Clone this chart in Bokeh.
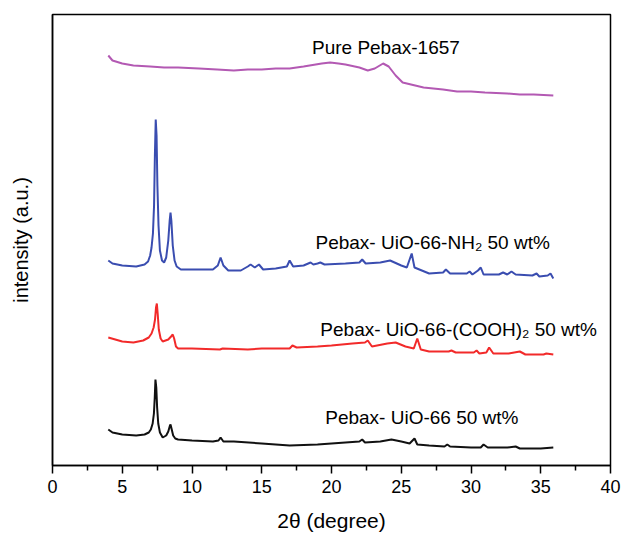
from bokeh.plotting import figure
from bokeh.models import Label, FixedTicker, Range1d
from bokeh.embed import file_html
from bokeh.resources import INLINE

# ---- data (2theta in degrees, intensity in a.u., stacked offsets included) ----
uio66_x = [4.0, 4.3, 5.0, 6.0, 6.6, 6.9, 7.05, 7.18, 7.27, 7.33, 7.38, 7.44, 7.5, 7.58, 7.7, 7.9, 8.15,
           8.3, 8.4, 8.46, 8.53, 8.65, 8.8, 9.0,
           10.0, 11.5, 11.9, 12.05, 12.25, 13.0, 15.0, 17.0, 19.0, 20.0, 21.0, 22.0, 22.2, 22.4, 23.5, 24.3,
           25.0, 25.6, 25.95, 26.15, 27.0, 28.1, 28.3, 28.5, 30.0, 30.7, 30.9, 31.2, 32.0, 32.6, 33.2, 33.5,
           35.0, 35.9]
uio66_y = [36, 33, 31, 30, 31, 33, 36, 42, 52, 68, 86, 78, 58, 42, 33, 28, 30,
           34, 39, 41, 37, 30, 27, 26,
           25, 24, 25, 28, 24, 24, 22, 20, 21, 22, 23, 24, 26, 23, 24, 26,
           24, 22, 27, 21, 20, 19, 21, 19, 18, 18, 21, 18, 18, 18, 19, 17,
           17, 18]

cooh_x = [4.0, 5.0, 5.8, 6.5, 6.9, 7.1, 7.25, 7.35, 7.42, 7.48, 7.54, 7.62, 7.75, 7.9, 8.3, 8.5,
          8.62, 8.72, 8.85, 9.0,
          10.0, 12.0, 12.2, 14.0, 15.0, 17.0, 17.2, 17.5, 19.0, 20.0, 21.5, 22.4, 22.6, 22.9, 24.0,
          24.6, 25.3, 25.9, 26.15, 26.4, 27.0, 28.4, 28.6, 28.9, 30.2, 30.4, 30.6, 31.1, 31.3, 31.6,
          32.7, 33.1, 33.5, 33.9, 35.2, 35.4, 35.9]
cooh_y = [128, 124, 123, 125, 128, 132, 138, 146, 158, 162, 152, 136, 127, 124, 126, 129,
          131, 127, 119, 117,
          117, 116, 117, 116, 117, 117, 120, 118, 119, 120, 122, 123, 125, 119, 122,
          123, 119, 117, 127, 116, 114, 114, 115, 113, 113, 115, 112, 113, 118, 112,
          112, 113, 114, 111, 111, 112, 111]

nh2_x = [4.0, 4.3, 5.0, 6.0, 6.6, 6.85, 7.0, 7.1, 7.2, 7.28, 7.34, 7.4, 7.46, 7.52, 7.6, 7.7, 7.85,
         8.0, 8.15, 8.3, 8.4, 8.46, 8.52, 8.62, 8.75, 8.9, 9.2, 10.0, 11.5, 11.85, 12.05, 12.25, 12.6,
         13.5, 14.0, 14.2, 14.5, 14.8, 15.1, 16.0, 16.8, 17.0, 17.25, 18.0, 18.5, 18.7, 19.0, 19.2,
         19.5, 21.0, 22.0, 22.2, 22.45, 23.5, 24.2, 25.0, 25.4, 25.6, 25.75, 25.95, 27.0, 28.0, 28.2,
         28.5, 29.7, 29.9, 30.1, 30.5, 30.7, 30.9, 32.0, 32.3, 32.6, 32.9, 33.2, 34.4, 34.7, 34.9,
         35.5, 35.7, 35.9]
nh2_y = [205, 202, 200, 199, 201, 204, 210, 218, 232, 260, 310, 346, 330, 280, 240, 215, 205,
         203, 208, 225, 245, 253, 245, 220, 205, 199, 196, 196, 196, 200, 208, 200, 195,
         195, 199, 201, 198, 201, 196, 197, 199, 205, 199, 200, 203, 201, 202, 203,
         201, 202, 203, 206, 202, 203, 205, 200, 198, 206, 212, 198, 192, 193, 196,
         192, 192, 194, 191, 195, 198, 191, 191, 193, 191, 194, 191, 190, 192, 189,
         190, 192, 187]

pebax_x = [4.0, 4.3, 5.0, 5.8, 7.0, 8.0, 9.0, 10.5, 11.8, 13.0, 14.0, 15.0, 16.0, 17.0, 18.0, 19.3,
           19.9, 20.5, 21.0, 22.0, 22.6, 23.1, 23.7, 24.1, 24.6, 25.1, 26.0, 26.6, 28.0, 29.0, 30.0,
           31.0, 32.6, 33.5, 34.5, 35.9]
pebax_y = [410, 405, 402, 400, 399, 398, 398, 397, 396, 395, 396, 396, 397, 397, 399, 402,
           403, 402, 401, 398, 395, 397, 402, 399, 390, 383, 380, 378, 376, 374, 374,
           373, 372, 371, 371, 370]

series_colors = ["#111111", "#f22a2a", "#3a4db0", "#b359b3"]

label_texts = ["Pure Pebax-1657", "Pebax- UiO-66-NH\u2082 50 wt%",
               "Pebax- UiO-66-(COOH)\u2082 50 wt%", "Pebax- UiO-66 50 wt%"]
label_x = [18.6, 18.85, 19.2, 19.55]
label_y = [418, 223, 136, 48]

x_ticks = [0, 5, 10, 15, 20, 25, 30, 35, 40]

FONT = "Liberation Sans"

p = figure(width=621, height=535, output_backend="svg", toolbar_location=None,
           x_range=Range1d(0, 40), y_range=Range1d(0, 451),
           min_border_left=52, min_border_right=11, min_border_top=14, min_border_bottom=70)

p.line(uio66_x, uio66_y, line_color=series_colors[0], line_width=2)
p.line(cooh_x, cooh_y, line_color=series_colors[1], line_width=2)
p.line(nh2_x, nh2_y, line_color=series_colors[2], line_width=2)
p.line(pebax_x, pebax_y, line_color=series_colors[3], line_width=2)

for t, x, y in zip(label_texts, label_x, label_y):
    p.add_layout(Label(x=x, y=y, text=t, text_font=FONT, text_font_size="19px",
                       text_color="black", text_align="left", text_baseline="alphabetic"))

p.xgrid.visible = False
p.ygrid.visible = False
p.outline_line_color = "black"
p.outline_line_width = 1.5

xa = p.xaxis[0]
xa.ticker = FixedTicker(ticks=x_ticks, minor_ticks=[2.5 + 5 * i for i in range(8)])
xa.major_tick_out = 8
xa.major_tick_in = 0
xa.minor_tick_out = 5
xa.minor_tick_in = 0
xa.axis_line_width = 1.5
xa.major_tick_line_width = 1.5
xa.minor_tick_line_width = 1.5
xa.major_label_text_font = FONT
xa.major_label_text_font_size = "18px"
xa.major_label_text_color = "black"
xa.major_label_standoff = 6
xa.axis_label = "2\u03b8 (degree)"
xa.axis_label_text_font = FONT
xa.axis_label_text_font_size = "21px"
xa.axis_label_text_font_style = "normal"
xa.axis_label_text_color = "black"
xa.axis_label_standoff = 13

ya = p.yaxis[0]
ya.ticker = FixedTicker(ticks=[])
ya.major_tick_out = 0
ya.major_tick_in = 0
ya.minor_tick_out = 0
ya.minor_tick_in = 0
ya.major_label_text_font_size = "0px"
ya.axis_line_width = 1.5
ya.axis_label = "intensity (a.u.)"
ya.axis_label_text_font = FONT
ya.axis_label_text_font_size = "20px"
ya.axis_label_text_font_style = "normal"
ya.axis_label_text_color = "black"
ya.axis_label_standoff = 21

open("out.html", "w").write(file_html(p, INLINE))
